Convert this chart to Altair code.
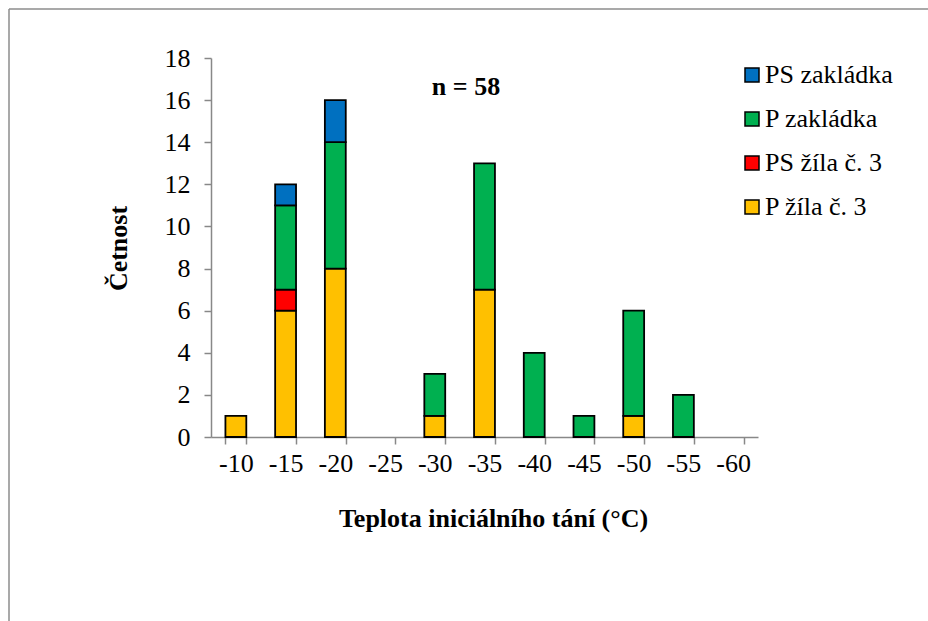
import altair as alt
import pandas as pd

categories = ["-10", "-15", "-20", "-25", "-30", "-35", "-40", "-45", "-50", "-55", "-60"]
p_zila = [1, 6, 8, 0, 1, 7, 0, 0, 1, 0, 0]
ps_zila = [0, 1, 0, 0, 0, 0, 0, 0, 0, 0, 0]
p_zakladka = [0, 4, 6, 0, 2, 6, 4, 1, 5, 2, 0]
ps_zakladka = [0, 1, 2, 0, 0, 0, 0, 0, 0, 0, 0]

series_names = ["P žíla č. 3", "PS žíla č. 3", "P zakládka", "PS zakládka"]
series_colors = ["#FFC000", "#FF0000", "#00B050", "#0070C0"]
series_values = [p_zila, ps_zila, p_zakladka, ps_zakladka]

rows = []
for order, (name, vals) in enumerate(zip(series_names, series_values)):
    for cat, v in zip(categories, vals):
        if v > 0:
            rows.append({"cat": cat, "series": name, "value": v, "ord": order})
df = pd.DataFrame(rows)

legend_order = series_names[::-1]
legend_colors = series_colors[::-1]

FONT = "Liberation Serif"
W, H = 547, 379
LEFT, TOP = 211, 58

bars = alt.Chart(df).mark_bar(stroke="black", strokeWidth=1.8).encode(
    x=alt.X(
        "cat:N",
        sort=categories,
        scale=alt.Scale(domain=categories, paddingInner=0.58, paddingOuter=0.29),
        axis=alt.Axis(
            title="Teplota iniciálního tání (°C)",
            labelAngle=0,
            tickBand="extent",
            tickSize=7,
            tickColor="#888888",
            tickWidth=1.5,
            domainColor="#888888",
            domainWidth=1.5,
            labelFont=FONT,
            labelFontSize=26,
            labelColor="black",
            labelPadding=6,
            titleFont=FONT,
            titleFontSize=26,
            titleFontWeight="bold",
            titleColor="black",
            titleX=282,
            titleY=81,
            titleBaseline="middle",
            grid=False,
        ),
    ),
    y=alt.Y(
        "value:Q",
        stack="zero",
        scale=alt.Scale(domain=[0, 18], nice=False),
        axis=alt.Axis(
            title="Četnost",
            values=list(range(0, 19, 2)),
            tickSize=7,
            tickColor="#888888",
            tickWidth=1.5,
            domainColor="#888888",
            domainWidth=1.5,
            labelFont=FONT,
            labelFontSize=26,
            labelColor="black",
            labelPadding=14,
            titleFont=FONT,
            titleFontSize=26,
            titleFontWeight="bold",
            titleColor="black",
            titleX=-93,
            titleY=190,
            titleBaseline="middle",
            grid=False,
        ),
    ),
    color=alt.Color(
        "series:N",
        scale=alt.Scale(domain=legend_order, range=legend_colors),
        legend=alt.Legend(
            title=None,
            orient="none",
            legendX=528,
            legendY=4,
            padding=0,
            symbolType="square",
            symbolSize=196,
            symbolStrokeColor="black",
            symbolStrokeWidth=1.5,
            labelFont=FONT,
            labelFontSize=26,
            labelColor="black",
            labelOffset=0,
            rowPadding=18,
        ),
    ),
    order=alt.Order("ord:Q", sort="ascending"),
)

note = alt.Chart(pd.DataFrame({"t": ["n = 58"]})).mark_text(
    font=FONT, fontSize=26, fontWeight="bold", color="black", baseline="middle", align="center"
).encode(text="t:N", x=alt.value(255), y=alt.value(29))

frame_df = pd.DataFrame({"k": [0]})
frame_left = alt.Chart(frame_df).mark_rule(color="#8c8c8c", strokeWidth=1.5).encode(
    x=alt.value(9 - LEFT), y=alt.value(9 - TOP), y2=alt.value(621 - TOP + 5)
)
frame_top = alt.Chart(frame_df).mark_rule(color="#8c8c8c", strokeWidth=1.5).encode(
    x=alt.value(9 - LEFT), x2=alt.value(928 - LEFT + 5), y=alt.value(9 - TOP)
)

chart = alt.layer(frame_left, frame_top, bars, note).properties(
    width=W,
    height=H,
    autosize=alt.AutoSizeParams(type="none"),
    padding={"left": LEFT, "top": TOP, "right": 928 - LEFT - W, "bottom": 621 - TOP - H},
    background="white",
).configure_view(stroke=None)

chart.save("out.html", embed_options={"renderer": "svg", "actions": False})
